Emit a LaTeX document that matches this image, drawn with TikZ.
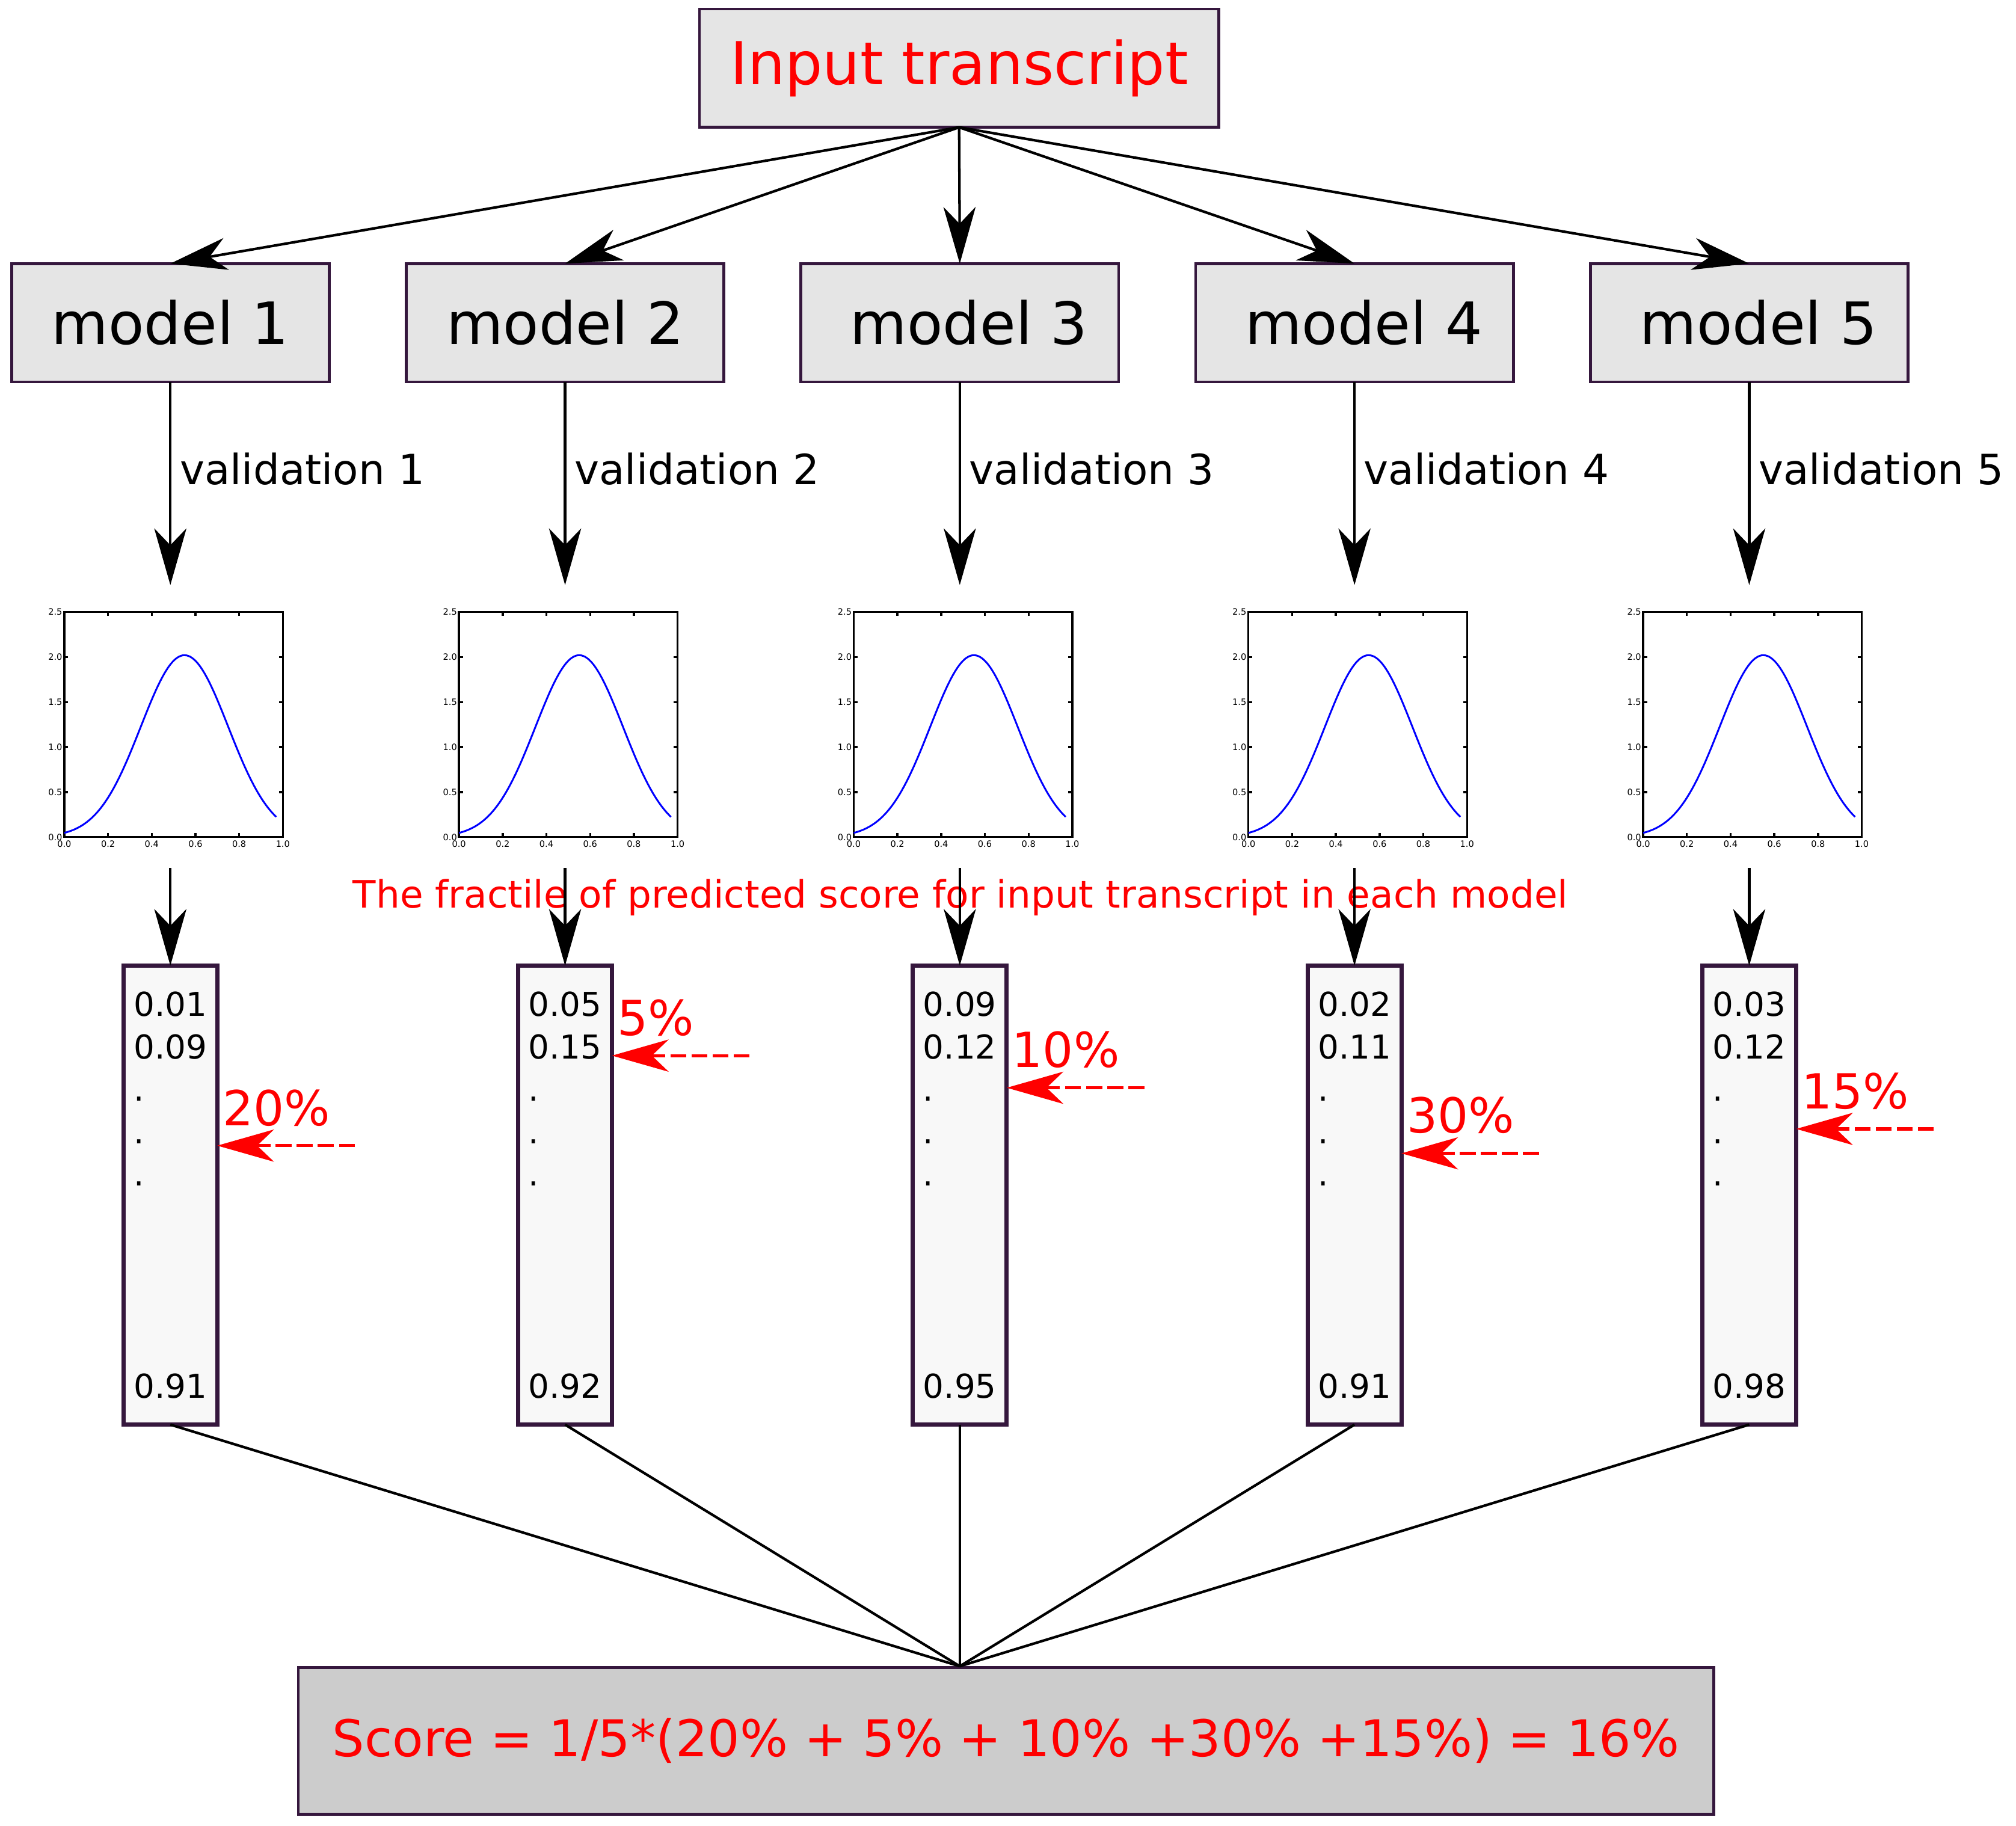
\documentclass[tikz,border=0pt]{standalone}
\usepackage{fontspec}
\setmainfont{DejaVu Sans}
\usepackage{xcolor}
\usepackage{tikz}
\usetikzlibrary{positioning}
\usetikzlibrary{arrows.meta}
\tikzset{>=Stealth}
\definecolor{boxedge}{HTML}{35173D}
\definecolor{boxgray}{HTML}{E5E5E5}
\definecolor{colwhite}{HTML}{F8F8F8}
\definecolor{scoregray}{HTML}{CCCCCC}
\tikzstyle{line} = [draw, line width=1pt, -{Stealth[length=22pt,width=12.5pt,inset=6.5pt]}]
\tikzstyle{link} = [draw, line width=1pt]

\begin{document}
\begin{tikzpicture}[x=0.5pt, y=-0.5pt,
	inputbox/.style={draw=boxedge, line width=1.1pt, fill=boxgray, minimum width=202pt,
		minimum height=46pt, inner sep=0pt, outer sep=0pt, text=red,
		font=\fontsize{23}{27}\selectfont},
	modelbox/.style={draw=boxedge, line width=1.1pt, fill=boxgray, minimum width=123.5pt,
		minimum height=46pt, inner sep=0pt, outer sep=0pt, font=\fontsize{22.7}{27}\selectfont},
	plotarea/.style={minimum width=90pt, minimum height=110pt, inner sep=0pt, outer sep=0pt},
	colbox/.style={draw=boxedge, line width=1.6pt, fill=colwhite, minimum width=36.5pt,
		minimum height=178.5pt, inner sep=0pt, outer sep=0pt, align=left,
		font=\fontsize{12.8}{16.5}\selectfont},
	resultbox/.style={draw=boxedge, line width=1.1pt, fill=scoregray, minimum width=550.5pt,
		minimum height=57pt, inner sep=0pt, text=red, font=\fontsize{19.7}{24}\selectfont},
	vlabel/.style={right, inner sep=3.2pt, font=\fontsize{16.2}{19}\selectfont},
	notetext/.style={text=red, inner sep=0pt, font=\fontsize{14.7}{17}\selectfont},
	pctline/.style={line, red, line width=1.2pt, dash pattern=on 6.2pt off 2pt},
	pctlabel/.style={anchor=south west, inner xsep=1.5pt, inner ysep=7pt, text=red,
		font=\fontsize{18.8}{22}\selectfont},
	plotframe/.style={draw, line width=0.8pt},
	ticklabel/.style={inner sep=0.6pt, font=\fontsize{3.4}{4}\selectfont},
	density/.pic={
		\draw[plotframe] (-82.5,-89) rectangle (87.5,86);
		\foreach \X/\lbl [count=\k] in {-82.5/0.0,-48.5/0.2,-14.5/0.4,19.5/0.6,53.5/0.8,87.5/1.0}{
			\draw[plotframe] (\X,86) -- (\X,83) (\X,-89) -- (\X,-86);
			\node[ticklabel, anchor=north] (xt\k) at (\X,87) {\lbl};
		}
		\foreach \Y/\lbl [count=\k] in {86/0.0,51/0.5,16/1.0,-19/1.5,-54/2.0,-89/2.5}{
			\draw[plotframe] (-82.5,\Y) -- (-79.5,\Y) (87.5,\Y) -- (84.5,\Y);
			\node[ticklabel, anchor=east] (yt\k) at (-82.5,\Y) {\lbl};
		}
		\draw[blue, line width=0.7pt] plot[domain=0:0.97, samples=60, smooth]
			({-82.5+170*\x},{86-141.4*exp(-(\x-0.55)*(\x-0.55)/0.08)});
	}]
	\useasboundingbox (0,0) rectangle (1568,1420);
	\node [inputbox] (input) at (746,53) {Input transcript};
	%% Models
	\node [modelbox] (m1) at (132.5,251) {model 1};
	\node [modelbox, right=30pt of m1] (m2) {model 2};
	\node [modelbox, right=30pt of m2] (m3) {\ model 3};
	\node [modelbox, right=30pt of m3] (m4) {\ model 4};
	\node [modelbox, right=30pt of m4] (m5) {\ model 5};
	%% Plots
	\node [plotarea, below=79pt of m1] (d1) {};
	\node [plotarea, below=79pt of m2] (d2) {};
	\node [plotarea, below=79pt of m3] (d3) {};
	\node [plotarea, below=79pt of m4] (d4) {};
	\node [plotarea, below=79pt of m5] (d5) {};
	\pic (g1) at (d1) {density};
	\pic (g2) at (d2) {density};
	\pic (g3) at (d3) {density};
	\pic (g4) at (d4) {density};
	\pic (g5) at (d5) {density};
	%% Score columns
	\node [colbox, below=38pt of d1] (s1) {0.01\\0.09\\.\\.\\.\\[66pt]0.91};
	\node [colbox, below=38pt of d2] (s2) {0.05\\0.15\\.\\.\\.\\[66pt]0.92};
	\node [colbox, below=38pt of d3] (s3) {0.09\\0.12\\.\\.\\.\\[66pt]0.95};
	\node [colbox, below=38pt of d4] (s4) {0.02\\0.11\\.\\.\\.\\[66pt]0.91};
	\node [colbox, below=38pt of d5] (s5) {0.03\\0.12\\.\\.\\.\\[66pt]0.98};
	\node [resultbox] (score) at (782.5,1354) {Score = 1/5*(20\% + 5\% + 10\% +30\% +15\%) = 16\%};
	\node [notetext] (fractile) at (747,698) {The fractile of predicted score for input transcript in each model};
	%% Inputs
	\path [line] (input.south) -- (m1.north);
	\path [line] (input.south) -- (m2.north);
	\path [line] (input.south) -- (m3.north);
	\path [line] (input.south) -- (m4.north);
	\path [line] (input.south) -- (m5.north);
	%% Validation
	\path [line] (m1) -- node [vlabel, pos=0.43] (v1) {validation 1} (d1);
	\path [line] (m2) -- node [vlabel, pos=0.43] (v2) {validation 2} (d2);
	\path [line] (m3) -- node [vlabel, pos=0.43] (v3) {validation 3} (d3);
	\path [line] (m4) -- node [vlabel, pos=0.43] (v4) {validation 4} (d4);
	\path [line] (m5) -- node [vlabel, pos=0.43] (v5) {validation 5} (d5);
	\path [line] (d1) -- (s1);
	\path [line] (d2) -- (s2);
	\path [line] (d3) -- (s3);
	\path [line] (d4) -- (s4);
	\path [line] (d5) -- (s5);
	%% Fractiles
	\coordinate (p1) at (276,891);
	\coordinate (p2) at (583,821);
	\coordinate (p3) at (890,846);
	\coordinate (p4) at (1197,897);
	\coordinate (p5) at (1504,878);
	\path [pctline] (p1) -- node [pctlabel, pos=1] (l1) {20\%} (p1 -| s1.east);
	\path [pctline] (p2) -- node [pctlabel, pos=1] (l2) {5\%} (p2 -| s2.east);
	\path [pctline] (p3) -- node [pctlabel, pos=1] (l3) {10\%} (p3 -| s3.east);
	\path [pctline] (p4) -- node [pctlabel, pos=1] (l4) {30\%} (p4 -| s4.east);
	\path [pctline] (p5) -- node [pctlabel, pos=1] (l5) {15\%} (p5 -| s5.east);
	%% Average
	\coordinate (meet) at (s3 |- score.north);
	\path [link] (s1.south) -- (meet);
	\path [link] (s2.south) -- (meet);
	\path [link] (s3.south) -- (meet);
	\path [link] (s4.south) -- (meet);
	\path [link] (s5.south) -- (meet);
\end{tikzpicture}
\end{document}
